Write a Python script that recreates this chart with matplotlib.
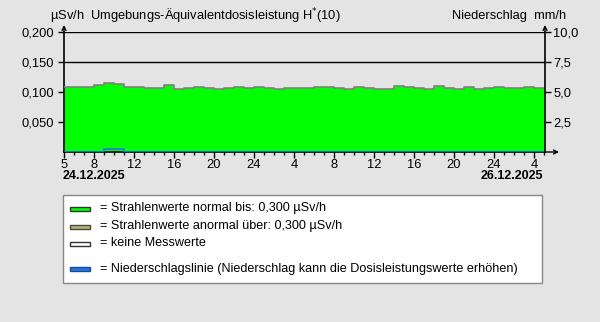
import matplotlib
matplotlib.use("Agg")
import matplotlib.pyplot as plt
import numpy as np
from matplotlib.patches import Rectangle
from matplotlib.ticker import MultipleLocator

plt.rcParams['font.family'] = ['Liberation Sans', 'DejaVu Sans']
plt.rcParams['font.size'] = 9

# hourly dose rate values (µSv/h), hours 5..52 counted from 24.12.2025 00:00
hours = list(range(5, 53))
dose = [0.108, 0.108, 0.108, 0.111, 0.115, 0.113, 0.108, 0.108, 0.106, 0.106,
        0.111, 0.105, 0.106, 0.108, 0.106, 0.105, 0.106, 0.108, 0.106, 0.108,
        0.106, 0.105, 0.106, 0.106, 0.106, 0.108, 0.108, 0.106, 0.105, 0.108,
        0.106, 0.105, 0.105, 0.110, 0.108, 0.106, 0.105, 0.110, 0.106, 0.105,
        0.108, 0.105, 0.106, 0.108, 0.106, 0.106, 0.108, 0.106]
# precipitation mm/h
precip = [0, 0, 0, 0, 0.25, 0.25] + [0] * 42

xtick_pos = [5, 8, 12, 16, 20, 24, 28, 32, 36, 40, 44, 48, 52]
xtick_labels = ['5', '8', '12', '16', '20', '24', '4', '8', '12', '16', '20', '24', '4']
ytick_vals = [0.05, 0.10, 0.15, 0.20]
ytick_labels = ['0,050', '0,100', '0,150', '0,200']
y2tick_vals = [2.5, 5.0, 7.5, 10.0]
y2tick_labels = ['2,5', '5,0', '7,5', '10,0']

W, H = 600, 322
bg = '#e4e4e4'
fig = plt.figure(figsize=(W / 100, H / 100), dpi=100, facecolor=bg)

L, R, T, B = 64, 545, 32, 152
ax = fig.add_axes([L / W, 1 - B / H, (R - L) / W, (B - T) / H])
ax.set_facecolor(bg)
ax.set_xlim(5, 53.1)
ax.set_ylim(0, 0.2)

edges = np.array(hours + [53])
vals = np.array(dose + [dose[-1]])
ax.fill_between(edges, 0, vals, step='post', color='#00ff00', lw=0, zorder=2)
ax.step(edges, vals, where='post', color='#808080', lw=1.2, zorder=3)

ax.set_yticks(ytick_vals)
ax.set_yticklabels(ytick_labels)
ax.yaxis.grid(True, color='black', lw=1)
ax.set_axisbelow(True)
ax.set_xticks(xtick_pos)
ax.set_xticklabels(xtick_labels)
ax.xaxis.set_minor_locator(MultipleLocator(1))
ax.tick_params(axis='x', which='major', direction='out', length=4, width=1, pad=1, labelsize=9.3)
ax.tick_params(axis='x', which='minor', direction='out', length=2, width=1)
ax.tick_params(axis='y', which='major', direction='out', length=4, width=1, pad=3, labelsize=9.3)
for s in ['top', 'right']:
    ax.spines[s].set_visible(False)
ax.spines['left'].set_linewidth(1.2)
ax.spines['bottom'].set_linewidth(1.2)

ax2 = ax.twinx()
ax2.set_ylim(0, 10)
ax2.set_yticks(y2tick_vals)
ax2.set_yticklabels(y2tick_labels)
ax2.tick_params(axis='y', direction='out', length=4, width=1, pad=2, labelsize=9.3)
for s in ['top', 'left', 'bottom']:
    ax2.spines[s].set_visible(False)
ax2.spines['right'].set_linewidth(1.2)
ax2.stairs(precip, edges, color='#1e78e6', lw=1.2, zorder=4)

# arrows on axes
arr = dict(arrowstyle='->', lw=1, color='black', mutation_scale=7, shrinkA=0, shrinkB=0)
ax.annotate('', xy=(L / W, 1 - 25 / H), xytext=(L / W, 1 - T / H), xycoords='figure fraction', arrowprops=arr)
ax.annotate('', xy=(R / W, 1 - 25 / H), xytext=(R / W, 1 - T / H), xycoords='figure fraction', arrowprops=arr)
ax.annotate('', xy=(559 / W, 1 - B / H), xytext=(R / W, 1 - B / H), xycoords='figure fraction', arrowprops=arr)

# header texts
fig.text(50 / W, 1 - 16 / H, 'µSv/h  Umgebungs-Äquivalentdosisleistung H$^{*}$(10)', ha='left', va='center', fontsize=9.3)
fig.text(566 / W, 1 - 16 / H, 'Niederschlag  mm/h', ha='right', va='center', fontsize=9.3)
fig.text(63 / W, 1 - 176 / H, '24.12.2025', ha='left', va='center', fontsize=9, fontweight='bold')
fig.text(543 / W, 1 - 176 / H, '26.12.2025', ha='right', va='center', fontsize=9, fontweight='bold')

# legend box
fig.patches.append(Rectangle((63 / W, 1 - 283 / H), (542 - 63) / W, (283 - 195) / H,
                             transform=fig.transFigure, facecolor='white', edgecolor='#888888', lw=1))
leg_colors = ['#00ff00', '#b4b46a', '#ffffff', '#1e78e6']
leg_edges = ['#333333', '#444444', '#333333', '#1a4a90']
leg_texts = ['= Strahlenwerte normal bis: 0,300 µSv/h',
             '= Strahlenwerte anormal über: 0,300 µSv/h',
             '= keine Messwerte',
             '= Niederschlagslinie (Niederschlag kann die Dosisleistungswerte erhöhen)']
leg_y = [208.5, 226.5, 243.5, 269]
for c, e, t, y in zip(leg_colors, leg_edges, leg_texts, leg_y):
    fig.patches.append(Rectangle((70 / W, 1 - (y + 2) / H), 20 / W, 4 / H,
                                 transform=fig.transFigure, facecolor=c, edgecolor=e, lw=1))
    fig.text(100 / W, 1 - y / H, t, ha='left', va='center', fontsize=9.1)

fig.savefig('out.png', dpi=100, facecolor=bg)
